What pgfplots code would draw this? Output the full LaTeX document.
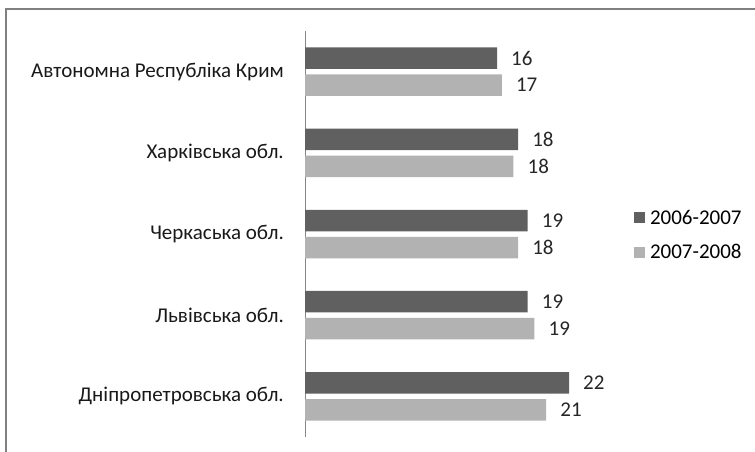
\documentclass[border=0pt]{standalone}
\usepackage{pgfplots}
\pgfplotsset{compat=1.18}
\usepackage{fontspec}
\setmainfont{Carlito}

\definecolor{bardark}{RGB}{96,96,96}
\definecolor{barlight}{RGB}{178,178,178}
\definecolor{framegray}{RGB}{128,128,128}
\definecolor{axisgray}{RGB}{134,134,134}

\begin{document}
\begin{tikzpicture}
  \useasboundingbox (0,0) rectangle (755pt,-452pt);
  \draw[framegray, line width=2.5pt] (6pt,-452pt) -- (6pt,-9pt) -- (755pt,-9pt);

  \begin{axis}[
      at={(305pt,-437pt)}, anchor=south west,
      scale only axis, width=360pt, height=406pt,
      xbar, bar width=21.5pt,
      xmin=0, xmax=30,
      ymin=-0.5, ymax=4.5, y dir=reverse,
      axis x line=none, axis y line*=left,
      y axis line style={color=axisgray, line width=0.8pt},
      ytick={0,1,2,3,4},
      yticklabels={Автономна Республіка Крим, Харківська обл., Черкаська обл., Львівська обл., Дніпропетровська обл.},
      major tick length=0pt,
      yticklabel style={font=\fontsize{21}{25}\selectfont, color=black!90, anchor=east, inner sep=0pt, xshift=-21pt},
      nodes near coords, point meta=explicit symbolic,
      every node near coord/.append style={font=\fontsize{21}{25}\selectfont, color=black!85, anchor=west, inner sep=0pt, xshift=14pt},
      legend style={at={(axis description cs:0.914,0.497)}, anchor=west, draw=none, fill=none,
        inner sep=0pt, outer sep=0pt, font=\fontsize{21}{25}\selectfont, row sep=15pt,
        /tikz/every odd column/.append style={column sep=3pt}},
      legend cell align=left,
      legend image code/.code={\fill[#1] (0pt,-5.5pt) rectangle (11pt,5.5pt);},
    ]
    \addplot[fill=bardark, draw=none, bar shift=13.5pt] coordinates {
      (16.0,0) [16]
      (17.76,1) [18]
      (18.56,2) [19]
      (18.56,3) [19]
      (22.0,4) [22]
    };
    \addplot[fill=barlight, draw=none, bar shift=-13.5pt] coordinates {
      (16.4,0) [17]
      (17.37,1) [18]
      (17.76,2) [18]
      (19.12,3) [19]
      (20.1,4) [21]
    };
    \legend{2006-2007, 2007-2008}
  \end{axis}
\end{tikzpicture}
\end{document}
